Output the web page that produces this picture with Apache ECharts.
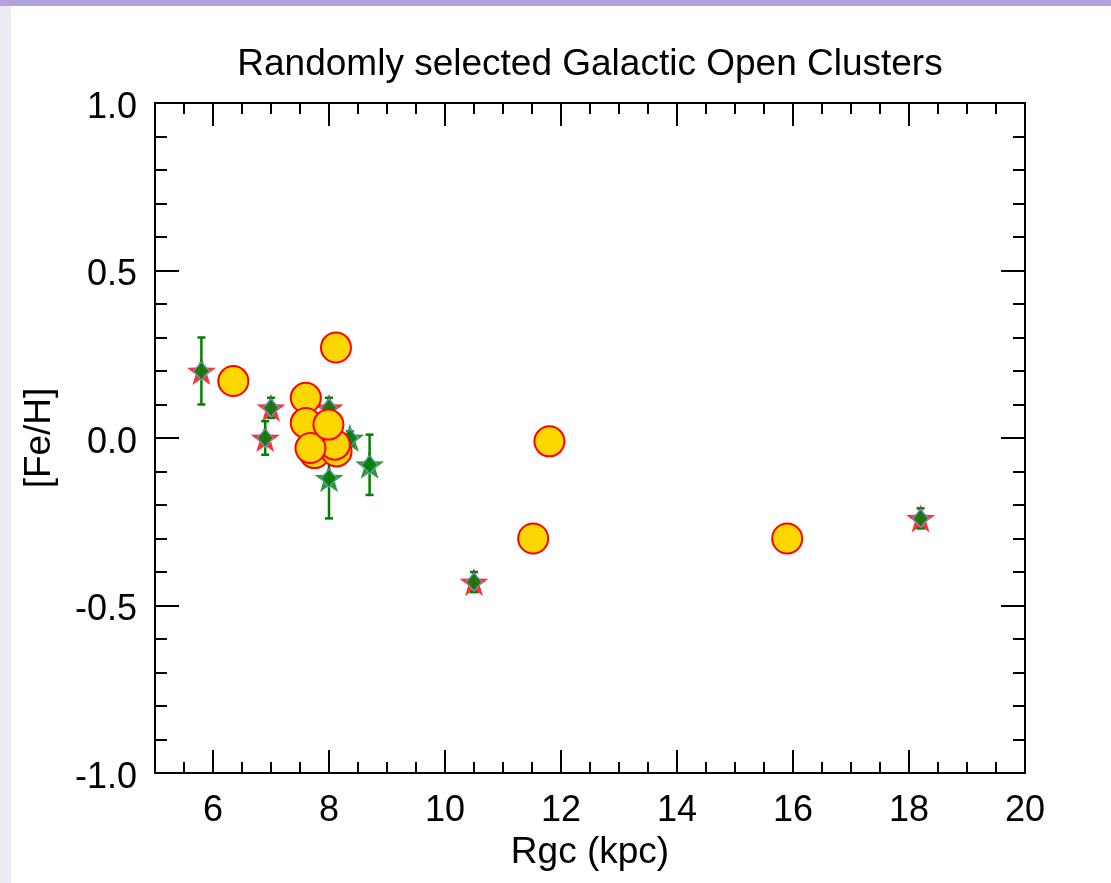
<!DOCTYPE html>
<html>
<head>
<meta charset="utf-8">
<script src="https://cdn.jsdelivr.net/npm/echarts@6/dist/echarts.min.js"></script>
<style>
html,body{margin:0;padding:0;background:#fff;}
#chart{width:1111px;height:883px;}
</style>
</head>
<body>
<div id="chart"></div>
<script>
// ---- data ----
var titleText = 'Randomly selected Galactic Open Clusters';
var xName = 'Rgc (kpc)';
var yName = '[Fe/H]';
var xMajorTicks = [6, 8, 10, 12, 14, 16, 18, 20];
var yMajorTicks = [-1.0, -0.5, 0.0, 0.5, 1.0];

var redStarX = [5.8, 6.9, 7.0, 8.0, 10.5, 18.2];
var redStarY = [0.20, 0.00, 0.09, 0.09, -0.43, -0.24];
var redStarErr = [0.10, 0.05, 0.03, 0.03, 0.03, 0.03];

var greenStarX = [8.0, 8.36, 8.7];
var greenStarY = [-0.12, 0.00, -0.08];
var greenStarErr = [0.12, 0.02, 0.09];

var circleX = [7.75, 8.13, 6.35, 8.12, 11.8, 11.52, 15.9, 7.6, 7.6, 8.1, 7.68, 7.99];
var circleY = [-0.045, -0.04, 0.17, 0.27, -0.01, -0.30, -0.30, 0.12, 0.045, -0.02, -0.03, 0.04];

// ---- build ----
function pairs(xs, ys) { return xs.map(function (x, i) { return [x, ys[i]]; }); }
var redStars = pairs(redStarX, redStarY);
var greenStars = pairs(greenStarX, greenStarY);
var circles = pairs(circleX, circleY);
var errData = redStarX.map(function (x, i) { return [x, redStarY[i], redStarErr[i]]; })
  .concat(greenStarX.map(function (x, i) { return [x, greenStarY[i], greenStarErr[i]]; }));
var allStars = redStars.concat(greenStars);

var starPath = 'path://M0,-10L2.35,-3.24L9.51,-3.09L3.8,1.24L5.88,8.09L0,4L-5.88,8.09L-3.8,1.24L-9.51,-3.09L-2.35,-3.24Z';
var FONT = 'Liberation Sans, Arial, Helvetica, sans-serif';
var lineStyle = { color: '#000', width: 2 };

function xAx(pos, major, show) {
  var a = {
    type: 'value', position: pos, min: 5, max: 20,
    axisLine: { show: true, onZero: false, lineStyle: lineStyle },
    splitLine: { show: false },
    axisTick: { show: true, inside: true, length: major ? 23 : 11, lineStyle: lineStyle },
    axisLabel: { show: false }
  };
  if (major) {
    a.axisTick.customValues = xMajorTicks;
    a.axisLabel = { show: show, customValues: xMajorTicks, margin: 20, color: '#000', fontSize: 36, fontFamily: FONT };
    if (show) {
      a.name = xName; a.nameLocation = 'middle'; a.nameGap = 61;
      a.nameTextStyle = { color: '#000', fontSize: 37, fontFamily: FONT };
    }
  } else {
    a.interval = 0.5;
  }
  return a;
}
function yAx(pos, major, show) {
  var a = {
    type: 'value', position: pos, min: -1, max: 1,
    axisLine: { show: true, onZero: false, lineStyle: lineStyle },
    splitLine: { show: false },
    axisTick: { show: true, inside: true, length: major ? 24 : 12, lineStyle: lineStyle },
    axisLabel: { show: false }
  };
  if (major) {
    a.axisTick.customValues = yMajorTicks;
    a.axisLabel = { show: show, customValues: yMajorTicks, margin: 18, color: '#000', fontSize: 36, fontFamily: FONT,
      formatter: function (v) { return '{a|' + Number(v).toFixed(1) + '}'; },
      rich: { a: { color: '#000', fontSize: 36, fontFamily: FONT, padding: [10, 0, 0, 0] } } };
    if (show) {
      a.name = yName; a.nameLocation = 'middle'; a.nameGap = 97;
      a.nameTextStyle = { color: '#000', fontSize: 37, fontFamily: FONT };
    }
  } else {
    a.interval = 0.1;
  }
  return a;
}

var chart = echarts.init(document.getElementById('chart'), null, { renderer: 'canvas' });
chart.setOption({
  backgroundColor: '#ffffff',
  animation: false,
  graphic: [
    { type: 'rect', shape: { x: 0, y: 0, width: 1111, height: 6 }, style: { fill: '#b3a2de' }, z: -10 },
    { type: 'rect', shape: { x: 0, y: 6, width: 11, height: 877 }, style: { fill: '#edeaf4' }, z: -10 },
    { type: 'text', x: 590, y: 65, style: { text: titleText, fill: '#000', fontSize: 37, fontFamily: FONT, align: 'center', verticalAlign: 'middle' } }
  ],
  grid: { left: 155, right: 86, top: 103, bottom: 110, containLabel: false },
  xAxis: [xAx('bottom', false, false), xAx('bottom', true, true), xAx('top', false, false), xAx('top', true, false)],
  yAxis: [yAx('left', false, false), yAx('left', true, true), yAx('right', false, false), yAx('right', true, false)],
  series: [
    { type: 'scatter', name: 'red stars', xAxisIndex: 0, yAxisIndex: 0, data: redStars, symbol: starPath, symbolSize: [29, 28],
      itemStyle: { color: '#ff0000' }, z: 2 },
    { type: 'scatter', name: 'green stars', xAxisIndex: 0, yAxisIndex: 0, data: greenStars, symbol: starPath, symbolSize: [29, 28],
      itemStyle: { color: '#008000' }, z: 2 },
    { type: 'custom', name: 'errors', xAxisIndex: 0, yAxisIndex: 0, data: errData, z: 3,
      renderItem: function (params, api) {
        var x = api.value(0), y = api.value(1), e = api.value(2);
        var top = api.coord([x, y + e]), bot = api.coord([x, y - e]);
        var st = { stroke: '#008000', lineWidth: 2.5 };
        var w = 4;
        return { type: 'group', children: [
          { type: 'line', shape: { x1: top[0], y1: top[1], x2: bot[0], y2: bot[1] }, style: st },
          { type: 'line', shape: { x1: top[0] - w, y1: top[1], x2: top[0] + w, y2: top[1] }, style: st },
          { type: 'line', shape: { x1: bot[0] - w, y1: bot[1], x2: bot[0] + w, y2: bot[1] }, style: st }
        ] };
      } },
    { type: 'scatter', name: 'diamonds', xAxisIndex: 0, yAxisIndex: 0, data: allStars, symbol: 'diamond', symbolSize: [16, 18],
      itemStyle: { color: '#008000', borderColor: '#6a9ae6', borderWidth: 1.5 }, z: 4 },
    { type: 'scatter', name: 'circles', xAxisIndex: 0, yAxisIndex: 0, data: circles, symbol: 'circle', symbolSize: 30,
      itemStyle: { color: '#ffd700', borderColor: '#ff0000', borderWidth: 2, opacity: 1 }, z: 5 }
  ]
});
</script>
</body>
</html>
